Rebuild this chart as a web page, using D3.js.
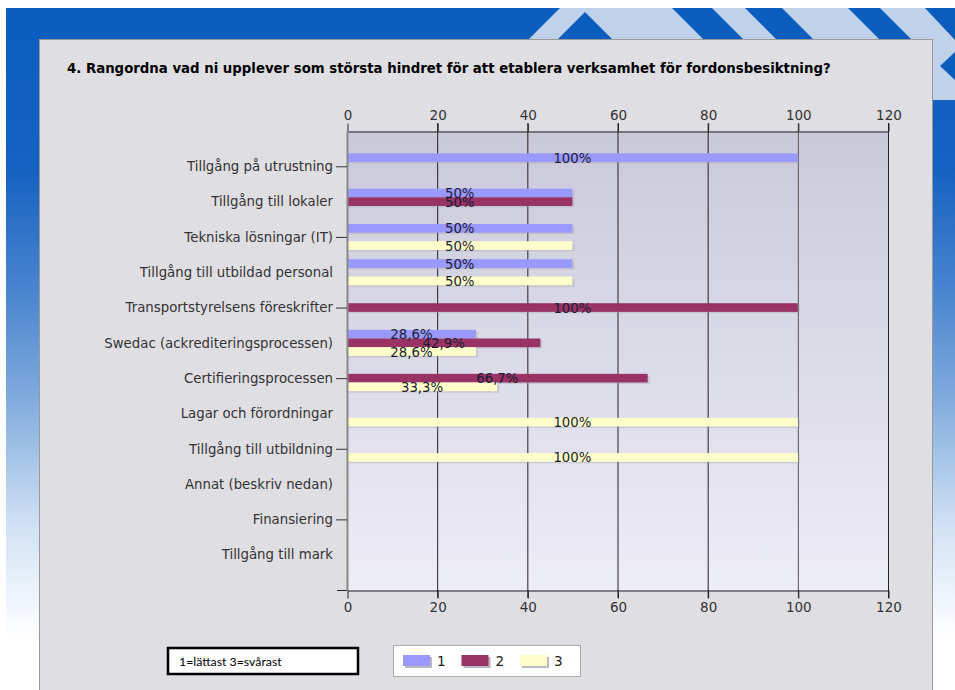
<!DOCTYPE html>
<html>
<head>
<meta charset="utf-8">
<script src="https://cdnjs.cloudflare.com/ajax/libs/d3/7.8.5/d3.min.js"></script>
<style>
body { margin: 0; background: #ffffff; }
</style>
</head>
<body>
<div id="chart"></div>
<script>
var width = 955, height = 690;

var title = "4. Rangordna vad ni upplever som största hindret för att etablera verksamhet för fordonsbesiktning?";
var categories = [
	"Tillgång på utrustning",
	"Tillgång till lokaler",
	"Tekniska lösningar (IT)",
	"Tillgång till utbildad personal",
	"Transportstyrelsens föreskrifter",
	"Swedac (ackrediteringsprocessen)",
	"Certifieringsprocessen",
	"Lagar och förordningar",
	"Tillgång till utbildning",
	"Annat (beskriv nedan)",
	"Finansiering",
	"Tillgång till mark"
];
var seriesNames = ["1", "2", "3"];
var series1 = [100, 50, 50, 50, 0, 28.6, 0, 0, 0, 0, 0, 0];
var series2 = [0, 50, 0, 0, 100, 42.9, 66.7, 0, 0, 0, 0, 0];
var series3 = [0, 0, 50, 50, 0, 28.6, 33.3, 100, 100, 0, 0, 0];
var xTicks = [0, 20, 40, 60, 80, 100, 120];
var noteText = "1=lättast 3=svårast";

var colors = ["#9999ff", "#993366", "#ffffcc"];
var allSeries = [series1, series2, series3];
var font = '"DejaVu Sans", Verdana, sans-serif';

var svg = d3.select('#chart').append('svg')
	.attr('width', width)
	.attr('height', height)
	.style('font-family', font);

var defs = svg.append('defs');

// page background: blue header fading to white
var bg = defs.append('linearGradient').attr('id', 'bgGrad')
	.attr('x1', 0).attr('y1', 0).attr('x2', 0).attr('y2', 1);
bg.append('stop').attr('offset', '0').attr('stop-color', '#0a5cbd');
bg.append('stop').attr('offset', '0.25').attr('stop-color', '#1562c2');
bg.append('stop').attr('offset', '0.45').attr('stop-color', '#4e88d0');
bg.append('stop').attr('offset', '0.6').attr('stop-color', '#80abdd');
bg.append('stop').attr('offset', '0.8').attr('stop-color', '#d2e2f4');
bg.append('stop').attr('offset', '0.97').attr('stop-color', '#ffffff');

var plotGrad = defs.append('linearGradient').attr('id', 'plotGrad')
	.attr('x1', 0).attr('y1', 0).attr('x2', 0).attr('y2', 1);
plotGrad.append('stop').attr('offset', '0').attr('stop-color', '#cac9da');
plotGrad.append('stop').attr('offset', '1').attr('stop-color', '#ededf6');

svg.append('rect')
	.attr('x', 6).attr('y', 8)
	.attr('width', width - 6).attr('height', 650)
	.attr('fill', 'url(#bgGrad)');

// decoration in the header (light band + blue stripes)
var light = '#bfd2ea', blue = '#0a5cbd';
svg.append('polygon')
	.attr('points', '522,46 560,8 955,8 955,100 900,100 900,46')
	.attr('fill', light);
var stripes = [
	[[585, 12], [618, 45], [552, 45]],
	[[672, 8], [712, 8], [750, 46], [710, 46]],
	[[745, 8], [782, 8], [820, 46], [783, 46]],
	[[848, 8], [880, 8], [918, 46], [886, 46]],
	[[925, 8], [955, 8], [955, 40]],
	[[955, 52], [955, 80], [940, 66]]
];
stripes.forEach(function(p) {
	svg.append('polygon')
		.attr('points', p.map(function(d) { return d.join(','); }).join(' '))
		.attr('fill', blue);
});

// panel
svg.append('rect')
	.attr('x', 39.5).attr('y', 39.5)
	.attr('width', 893).attr('height', 660)
	.attr('fill', '#dfdee3')
	.attr('stroke', '#999999');

svg.append('text')
	.attr('x', 67).attr('y', 73)
	.attr('font-weight', 'bold')
	.attr('font-size', 13.3)
	.attr('fill', '#000')
	.text(title);

// scales
var x = d3.scaleLinear().domain([0, 120]).range([347, 888]);
var y = d3.scalePoint().domain(categories).range([131, 590]).padding(1);
var inner = d3.scaleBand().domain([0, 1, 2]).range([-13, 13]);

svg.append('rect')
	.attr('x', x(0)).attr('y', 131)
	.attr('width', x(120) - x(0)).attr('height', 590 - 131)
	.attr('fill', 'url(#plotGrad)');

// grid
svg.selectAll('line.grid')
	.data(xTicks.slice(1))
	.enter().append('line')
	.attr('class', 'grid')
	.attr('x1', function(d) { return x(d) + 0.5; })
	.attr('x2', function(d) { return x(d) + 0.5; })
	.attr('y1', 123).attr('y2', 598)
	.attr('stroke', function(d) { return d == 100 ? '#555' : '#222'; })
	.attr('stroke-width', 1);

// bars
var barData = [];
allSeries.forEach(function(s, si) {
	s.forEach(function(v, ci) {
		barData.push({ cat: categories[ci], s: si, v: v });
	});
});
var shown = barData.filter(function(d) { return d.v > 0; });

var bars = svg.append('g');
bars.selectAll('rect.shadow')
	.data(shown)
	.enter().append('rect')
	.attr('class', 'shadow')
	.attr('x', x(0) + 2)
	.attr('y', function(d) { return y(d.cat) + inner(d.s) + 2; })
	.attr('width', function(d) { return x(d.v) - x(0); })
	.attr('height', inner.bandwidth() - 0.5)
	.attr('fill', '#a0a0a8')
	.attr('opacity', 0.35);

bars.selectAll('rect.bar')
	.data(shown)
	.enter().append('rect')
	.attr('class', 'bar')
	.attr('x', x(0))
	.attr('y', function(d) { return y(d.cat) + inner(d.s); })
	.attr('width', function(d) { return x(d.v) - x(0); })
	.attr('height', inner.bandwidth())
	.attr('fill', function(d) { return colors[d.s]; });

var fmt = function(v) { return (v % 1 == 0 ? String(v) : v.toFixed(1).replace('.', ',')) + '%'; };

bars.selectAll('text.val')
	.data(shown)
	.enter().append('text')
	.attr('class', 'val')
	.attr('x', function(d) { return (x(0) + x(d.v)) / 2; })
	.attr('y', function(d) { return y(d.cat) + inner(d.s) + inner.bandwidth() / 2 + 5; })
	.attr('text-anchor', 'middle')
	.attr('font-size', 13.3)
	.attr('fill', '#1c1c30')
	.text(function(d) { return fmt(d.v); });

// axes
var topAxis = svg.append('g')
	.attr('transform', 'translate(0.5,131.5)')
	.call(d3.axisTop(x).tickValues(xTicks).tickSize(8).tickSizeOuter(0).tickPadding(4));
var bottomAxis = svg.append('g')
	.attr('transform', 'translate(0.5,590.5)')
	.call(d3.axisBottom(x).tickValues(xTicks).tickSize(8).tickSizeOuter(0).tickPadding(4));
[topAxis, bottomAxis].forEach(function(a) {
	a.selectAll('text').attr('font-size', 13.5).attr('fill', '#333').style('font-family', font);
	a.selectAll('line').attr('stroke', '#222');
	a.select('.domain').attr('stroke', '#222');
});
svg.append('line')
	.attr('x1', 337).attr('x2', x(0))
	.attr('y1', 590.5).attr('y2', 590.5)
	.attr('stroke', '#222');

var leftAxis = svg.append('g')
	.attr('transform', 'translate(' + x(0) + ',0)')
	.call(d3.axisLeft(y).tickSize(11).tickSizeOuter(0).tickPadding(3));
leftAxis.select('.domain').attr('stroke', '#888').attr('stroke-width', 2);
leftAxis.selectAll('.tick line')
	.attr('stroke', '#333')
	.attr('opacity', function(d, i) { return i % 2 == 0 ? 1 : 0; });
leftAxis.selectAll('.tick text')
	.attr('font-size', 13.3)
	.attr('fill', '#333')
	.style('font-family', font);

// note box
svg.append('rect')
	.attr('x', 168).attr('y', 648)
	.attr('width', 190).attr('height', 26)
	.attr('fill', '#fff')
	.attr('stroke', '#000')
	.attr('stroke-width', 2.5);
svg.append('text')
	.attr('x', 179).attr('y', 666)
	.attr('font-size', 12.3)
	.style('font-family', 'Lato, "Open Sans", sans-serif')
	.attr('fill', '#000')
	.text(noteText);

// legend
var legend = svg.append('g').attr('transform', 'translate(393,645)');
legend.append('rect')
	.attr('x', 0.5).attr('y', 0.5)
	.attr('width', 187).attr('height', 31)
	.attr('fill', '#fff')
	.attr('stroke', '#aaa');
var item = legend.selectAll('g.item')
	.data(seriesNames)
	.enter().append('g')
	.attr('class', 'item')
	.attr('transform', function(d, i) { return 'translate(' + (10 + i * 58.5) + ',10)'; });
item.append('rect')
	.attr('x', 2).attr('y', 2)
	.attr('width', 27).attr('height', 11)
	.attr('fill', '#b8b8c0');
item.append('rect')
	.attr('width', 27).attr('height', 11)
	.attr('fill', function(d, i) { return colors[i]; });
item.append('text')
	.attr('x', 34).attr('y', 11)
	.attr('font-size', 13.5)
	.attr('fill', '#222')
	.text(function(d) { return d; });
</script>
</body>
</html>
